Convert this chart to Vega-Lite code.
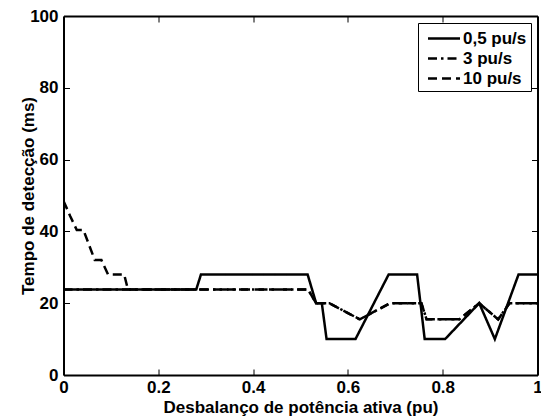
{
  "$schema": "https://vega.github.io/schema/vega-lite/v6.json",
  "autosize": {"type": "none"},
  "padding": {"left": 63.5, "top": 16, "right": 3.5, "bottom": 44},
  "width": 474,
  "height": 359,
  "background": "white",
  "config": {
    "font": "Liberation Sans",
    "view": {"stroke": null},
    "axis": {
      "grid": false,
      "domainColor": "black",
      "domainWidth": 2,
      "tickColor": "black",
      "tickWidth": 1,
      "tickSize": -6,
      "labelFont": "Liberation Sans",
      "labelFontWeight": "bold",
      "labelFontSize": 17,
      "labelColor": "black",
      "labelFlush": false,
      "labelOverlap": false,
      "titleFont": "Liberation Sans",
      "titleFontWeight": "bold",
      "titleFontSize": 17,
      "titleColor": "black"
    }
  },
  "data": {
    "values": [
      {"x": 0, "y": 23.8, "s": "0,5 pu/s"},
      {"x": 0.28, "y": 23.8, "s": "0,5 pu/s"},
      {"x": 0.29, "y": 28, "s": "0,5 pu/s"},
      {"x": 0.515, "y": 28, "s": "0,5 pu/s"},
      {"x": 0.533, "y": 20, "s": "0,5 pu/s"},
      {"x": 0.545, "y": 20, "s": "0,5 pu/s"},
      {"x": 0.555, "y": 10, "s": "0,5 pu/s"},
      {"x": 0.616, "y": 10, "s": "0,5 pu/s"},
      {"x": 0.686, "y": 28, "s": "0,5 pu/s"},
      {"x": 0.746, "y": 28, "s": "0,5 pu/s"},
      {"x": 0.762, "y": 10, "s": "0,5 pu/s"},
      {"x": 0.805, "y": 10, "s": "0,5 pu/s"},
      {"x": 0.877, "y": 20, "s": "0,5 pu/s"},
      {"x": 0.91, "y": 10, "s": "0,5 pu/s"},
      {"x": 0.96, "y": 28, "s": "0,5 pu/s"},
      {"x": 1, "y": 28, "s": "0,5 pu/s"},

      {"x": 0, "y": 23.8, "s": "3 pu/s"},
      {"x": 0.516, "y": 23.8, "s": "3 pu/s"},
      {"x": 0.533, "y": 20, "s": "3 pu/s"},
      {"x": 0.561, "y": 20, "s": "3 pu/s"},
      {"x": 0.625, "y": 15.5, "s": "3 pu/s"},
      {"x": 0.689, "y": 20, "s": "3 pu/s"},
      {"x": 0.755, "y": 20, "s": "3 pu/s"},
      {"x": 0.766, "y": 15.5, "s": "3 pu/s"},
      {"x": 0.835, "y": 15.5, "s": "3 pu/s"},
      {"x": 0.877, "y": 20, "s": "3 pu/s"},
      {"x": 0.917, "y": 15.5, "s": "3 pu/s"},
      {"x": 0.941, "y": 20, "s": "3 pu/s"},
      {"x": 1, "y": 20, "s": "3 pu/s"},

      {"x": 0, "y": 48.5, "s": "10 pu/s"},
      {"x": 0.014, "y": 44.3, "s": "10 pu/s"},
      {"x": 0.028, "y": 40.4, "s": "10 pu/s"},
      {"x": 0.042, "y": 40.4, "s": "10 pu/s"},
      {"x": 0.066, "y": 32, "s": "10 pu/s"},
      {"x": 0.08, "y": 32, "s": "10 pu/s"},
      {"x": 0.094, "y": 28, "s": "10 pu/s"},
      {"x": 0.128, "y": 28, "s": "10 pu/s"},
      {"x": 0.136, "y": 23.8, "s": "10 pu/s"},
      {"x": 0.516, "y": 23.8, "s": "10 pu/s"},
      {"x": 0.533, "y": 20, "s": "10 pu/s"},
      {"x": 0.561, "y": 20, "s": "10 pu/s"},
      {"x": 0.625, "y": 15.5, "s": "10 pu/s"},
      {"x": 0.689, "y": 20, "s": "10 pu/s"},
      {"x": 0.755, "y": 20, "s": "10 pu/s"},
      {"x": 0.766, "y": 15.5, "s": "10 pu/s"},
      {"x": 0.835, "y": 15.5, "s": "10 pu/s"},
      {"x": 0.877, "y": 20, "s": "10 pu/s"},
      {"x": 0.917, "y": 15.5, "s": "10 pu/s"},
      {"x": 0.941, "y": 20, "s": "10 pu/s"},
      {"x": 1, "y": 20, "s": "10 pu/s"}
    ]
  },
  "layer": [
    {
      "mark": {"type": "line", "color": "black", "strokeWidth": 2.5, "clip": true},
      "encoding": {
        "x": {
          "field": "x", "type": "quantitative",
          "scale": {"domain": [0, 1], "nice": false, "zero": false},
          "axis": {"values": [0, 0.2, 0.4, 0.6, 0.8, 1], "format": "~g", "title": "Desbalanço de potência ativa (pu)", "labelPadding": 10, "titlePadding": 4}
        },
        "y": {
          "field": "y", "type": "quantitative",
          "scale": {"domain": [0, 100], "nice": false},
          "axis": {"values": [0, 20, 40, 60, 80, 100], "format": "d", "title": "Tempo de detecção (ms)", "labelPadding": 11.5, "titlePadding": -8}
        },
        "strokeDash": {
          "field": "s", "type": "nominal",
          "scale": {"domain": ["0,5 pu/s", "3 pu/s", "10 pu/s"], "range": [[1, 0], [9, 4, 2.5, 4], [9, 5]]},
          "legend": {
            "title": null,
            "orient": "none",
            "legendX": 354.5,
            "legendY": 7,
            "symbolType": "M-1.6,0H1.6",
            "symbolSize": 400,
            "symbolStrokeWidth": 2.5,
            "symbolStrokeColor": "black",
            "symbolFillColor": "transparent",
            "symbolOffset": 10.5,
            "labelFontSize": 17,
            "labelFontWeight": "bold",
            "labelFont": "Liberation Sans",
            "labelColor": "black",
            "labelOffset": 7.5,
            "labelExpr": "datum.label + '  '",
            "rowPadding": 0,
            "padding": 4,
            "strokeColor": "black",
            "fillColor": "white",
            "cornerRadius": 0
          }
        },
        "order": {"field": "x", "type": "quantitative"}
      }
    },
    {
      "mark": {"type": "line", "opacity": 0},
      "encoding": {
        "x": {
          "field": "x", "type": "quantitative",
          "scale": {"domain": [0, 1], "nice": false, "zero": false},
          "axis": {"orient": "top", "values": [0, 0.2, 0.4, 0.6, 0.8, 1], "labels": false, "title": null}
        },
        "y": {
          "field": "y", "type": "quantitative",
          "scale": {"domain": [0, 100], "nice": false},
          "axis": {"orient": "right", "values": [0, 20, 40, 60, 80, 100], "labels": false, "title": null}
        }
      }
    }
  ],
  "resolve": {"axis": {"x": "independent", "y": "independent"}}
}
